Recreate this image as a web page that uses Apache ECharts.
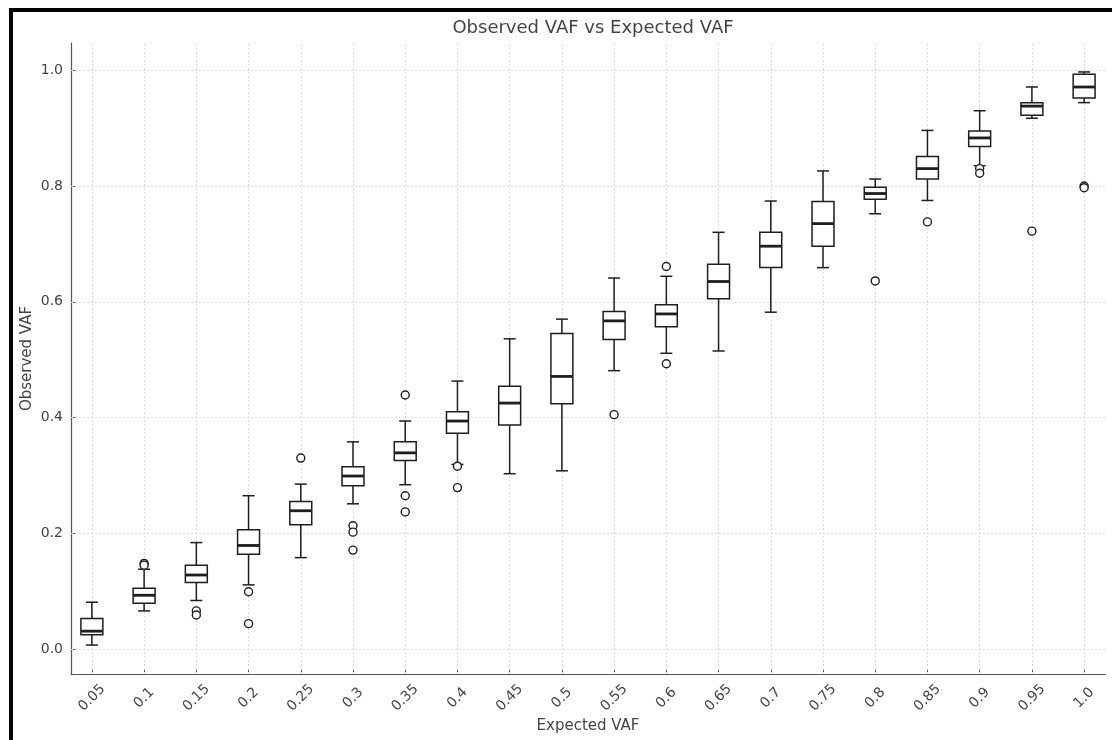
<!DOCTYPE html>
<html>
<head>
    <meta charset="utf-8">
    <title>Observed VAF vs Expected VAF</title>
    <script src="https://cdn.jsdelivr.net/npm/echarts@6/dist/echarts.min.js"></script>
    <style>
        body { margin: 0; background: #fff; }
        #main { position: absolute; left: 0; top: 0; width: 1112px; height: 740px; }
        #frame { position: absolute; left: 9px; top: 8px; right: 0; bottom: 0;
                 border-top: 4px solid #000; border-left: 4px solid #000; pointer-events: none; }
    </style>
</head>
<body>
    <div id="main"></div>
    <div id="frame"></div>

    <script type="text/javascript">
    // expected VAF groups (x axis)
    var categories = ['0.05','0.1','0.15','0.2','0.25','0.3','0.35','0.4','0.45','0.5',
                      '0.55','0.6','0.65','0.7','0.75','0.8','0.85','0.9','0.95','1.0'];
    // box statistics per group
    var whiskerLow  = [0.007,0.066,0.084,0.111,0.158,0.251,0.284,0.319,0.303,0.308,
                       0.481,0.511,0.515,0.582,0.659,0.752,0.775,0.835,0.917,0.944];
    var q1          = [0.025,0.079,0.115,0.164,0.215,0.282,0.326,0.373,0.387,0.424,
                       0.535,0.557,0.605,0.659,0.696,0.777,0.812,0.868,0.922,0.952];
    var median      = [0.031,0.093,0.128,0.179,0.239,0.299,0.339,0.394,0.425,0.471,
                       0.567,0.579,0.635,0.696,0.735,0.787,0.830,0.883,0.938,0.971];
    var q3          = [0.053,0.105,0.145,0.206,0.255,0.315,0.358,0.410,0.454,0.545,
                       0.583,0.595,0.665,0.720,0.773,0.798,0.851,0.895,0.944,0.993];
    var whiskerHigh = [0.081,0.138,0.184,0.265,0.285,0.358,0.394,0.463,0.536,0.570,
                       0.641,0.644,0.720,0.774,0.826,0.812,0.896,0.930,0.971,0.997];
    // outliers: [group index, value]
    var outliers = [
        [1,0.148],[1,0.145],
        [2,0.066],[2,0.059],
        [3,0.099],[3,0.044],
        [4,0.330],
        [5,0.213],[5,0.202],[5,0.171],
        [6,0.439],[6,0.265],[6,0.237],
        [7,0.316],[7,0.279],
        [10,0.405],
        [11,0.661],[11,0.493],
        [15,0.636],
        [16,0.738],
        [17,0.830],[17,0.822],
        [18,0.722],
        [19,0.800],[19,0.797]
    ];
    var yTicks = [0, 0.2, 0.4, 0.6, 0.8, 1.0];

    var xIdx = categories.map(function (c, i) { return i; });
    var boxData = categories.map(function (c, i) {
        return [i, whiskerLow[i], q1[i], median[i], q3[i], whiskerHigh[i]];
    });

    var ink = '#1e1e1e';
    var txt = '#444';
    var font = 'DejaVu Sans';

    function renderBox(params, api) {
        var x = api.value(0);
        var lo = api.coord([x, api.value(1)]);
        var b1 = api.coord([x, api.value(2)]);
        var md = api.coord([x, api.value(3)]);
        var b3 = api.coord([x, api.value(4)]);
        var hi = api.coord([x, api.value(5)]);
        var bw = api.size([0.42, 0])[0];
        var cw = api.size([0.23, 0])[0];
        var cx = md[0];
        var st = { stroke: ink, lineWidth: 1.5 };
        return {
            type: 'group',
            children: [
                { type: 'line', shape: { x1: cx, y1: hi[1], x2: cx, y2: b3[1] }, style: st },
                { type: 'line', shape: { x1: cx, y1: b1[1], x2: cx, y2: lo[1] }, style: st },
                { type: 'line', shape: { x1: cx - cw / 2, y1: hi[1], x2: cx + cw / 2, y2: hi[1] }, style: st },
                { type: 'line', shape: { x1: cx - cw / 2, y1: lo[1], x2: cx + cw / 2, y2: lo[1] }, style: st },
                { type: 'rect', shape: { x: cx - bw / 2, y: b3[1], width: bw, height: b1[1] - b3[1] },
                  style: { fill: '#fff', stroke: ink, lineWidth: 1.5 } },
                { type: 'line', shape: { x1: cx - bw / 2, y1: md[1], x2: cx + bw / 2, y2: md[1] },
                  style: { stroke: ink, lineWidth: 2.8 } }
            ]
        };
    }

    var gridLines = xIdx.map(function (i) { return { xAxis: i }; })
        .concat(yTicks.map(function (v) { return { yAxis: v }; }));

    var chart = echarts.init(document.getElementById('main'));
    chart.setOption({
        animation: false,
        backgroundColor: '#fff',
        title: {
            text: 'Observed VAF vs Expected VAF',
            left: 588, top: 14, textAlign: 'center',
            textStyle: { fontFamily: font, fontSize: 18, fontWeight: 'normal', color: txt }
        },
        grid: { left: 71, right: 7, top: 43, bottom: 66, outerBoundsMode: 'none' },
        xAxis: {
            type: 'value',
            min: -0.4, max: 19.4,
            name: 'Expected VAF', nameLocation: 'middle', nameGap: 45, nameMoveOverlap: false,
            nameTextStyle: { fontFamily: font, fontSize: 15, color: txt },
            axisLine: { show: true, onZero: false, lineStyle: { color: '#555', width: 1.2 } },
            axisTick: { show: true, inside: true, length: 4, customValues: xIdx,
                        lineStyle: { color: '#555' } },
            axisLabel: {
                customValues: xIdx,
                formatter: function (v) { return categories[Math.round(v)]; },
                rotate: 45, align: 'center', verticalAlign: 'middle', margin: 24,
                fontFamily: font, fontSize: 14, color: txt
            },
            splitLine: { show: false }
        },
        yAxis: {
            type: 'value',
            min: -0.043, max: 1.047,
            name: 'Observed VAF', nameLocation: 'middle', nameGap: 36, nameMoveOverlap: false,
            nameTextStyle: { fontFamily: font, fontSize: 15, color: txt },
            axisLine: { show: true, onZero: false, lineStyle: { color: '#555', width: 1.2 } },
            axisTick: { show: true, inside: true, length: 4, customValues: yTicks,
                        lineStyle: { color: '#555' } },
            axisLabel: {
                customValues: yTicks,
                formatter: function (v) { return v.toFixed(1); },
                margin: 8, fontFamily: font, fontSize: 14, color: txt
            },
            splitLine: { show: false }
        },
        series: [
            {
                type: 'line',
                data: [],
                z: 1,
                silent: true,
                markLine: {
                    z: 1,
                    silent: true,
                    symbol: ['none', 'none'],
                    label: { show: false },
                    lineStyle: { color: '#dcdcdc', type: [2, 2], width: 1 },
                    data: gridLines
                }
            },
            {
                type: 'custom',
                z: 3,
                renderItem: renderBox,
                encode: { x: 0, y: [1, 2, 3, 4, 5] },
                data: boxData
            },
            {
                type: 'scatter',
                z: 4,
                symbol: 'circle',
                symbolSize: 8,
                itemStyle: { color: '#fff', borderColor: ink, borderWidth: 1.4, opacity: 1 },
                data: outliers
            }
        ]
    });
    </script>
</body>
</html>
